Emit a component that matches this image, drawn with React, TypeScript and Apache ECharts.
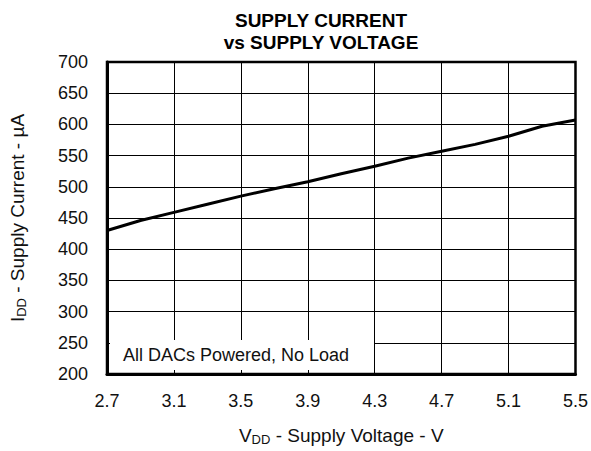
import React, { useEffect, useRef } from "react";
import * as echarts from "echarts";

const voltages = [2.7, 2.9, 3.1, 3.3, 3.5, 3.7, 3.9, 4.1, 4.3, 4.5, 4.7, 4.9, 5.1, 5.3, 5.5];
const currents = [430, 446, 459, 472, 485, 497, 508, 521, 533, 546, 557, 568, 581, 597, 607];

const xMin = 2.7;
const xMax = 5.5;
const xStep = 0.4;
const yMin = 200;
const yMax = 700;
const yStep = 50;

const titleLines = "SUPPLY CURRENT\nvs SUPPLY VOLTAGE";
const annotation = "All DACs Powered, No Load";

const FONT = "'Liberation Sans', Arial, Helvetica, sans-serif";

export default function App() {
  const ref = useRef<HTMLDivElement>(null);
  useEffect(() => {
    if (!ref.current) return;
    const chart = echarts.init(ref.current, null, { renderer: "svg" });
    const data = voltages.map((v, i) => [v, currents[i]]);
    const nameRich = {
      v: { fontSize: 19, color: "#111", fontFamily: FONT },
      s: { fontSize: 13, color: "#111", fontFamily: FONT, verticalAlign: "bottom", padding: [8, 0, 0, 0] },
    };
    chart.setOption({
      animation: false,
      backgroundColor: "#ffffff",
      grid: {
        left: 104,
        right: 10,
        top: 62,
        bottom: 73,
        show: true,
        borderColor: "#000",
        borderWidth: 2.5,
        backgroundColor: "transparent",
      },
      xAxis: {
        type: "value",
        min: xMin,
        max: xMax,
        interval: xStep,
        name: "{v|V}{s|DD}{v| - Supply Voltage - V}",
        nameLocation: "middle",
        nameGap: 51,
        nameTextStyle: { rich: nameRich },
        axisLine: { show: true, onZero: false, lineStyle: { color: "#000", width: 3 } },
        axisTick: { show: true, inside: true, length: 8, lineStyle: { color: "#000", width: 1 } },
        splitLine: { show: true, lineStyle: { color: "#000", width: 1 } },
        axisLabel: {
          margin: 18,
          fontSize: 18,
          color: "#111",
          fontFamily: FONT,
          formatter: (v: number) => v.toFixed(1),
        },
      },
      yAxis: {
        type: "value",
        min: yMin,
        max: yMax,
        interval: yStep,
        name: "{v|I}{s|DD}{v| - Supply Current - µA}",
        nameLocation: "middle",
        nameRotate: 90,
        nameGap: 79,
        nameTextStyle: { rich: nameRich },
        axisLine: { show: true, onZero: false, lineStyle: { color: "#000", width: 3 } },
        axisTick: { show: true, inside: true, length: 6, lineStyle: { color: "#000", width: 1 } },
        splitLine: { show: true, lineStyle: { color: "#000", width: 1 } },
        axisLabel: { margin: 19, fontSize: 18, color: "#111", fontFamily: FONT },
      },
      graphic: [
        {
          type: "text",
          x: 321,
          y: 9,
          style: {
            text: titleLines,
            textAlign: "center",
            textVerticalAlign: "top",
            font: `bold 19px ${FONT}`,
            lineHeight: 22,
            fill: "#000",
          },
        },
        {
          type: "rect",
          z: 10,
          shape: { x: 110, y: 340, width: 264, height: 30 },
          style: { fill: "#fff" },
        },
        {
          type: "text",
          z: 11,
          x: 123,
          y: 355,
          style: {
            text: annotation,
            font: `18px ${FONT}`,
            fill: "#111",
            textVerticalAlign: "middle",
          },
        },
      ],
      series: [
        {
          type: "line",
          data,
          showSymbol: false,
          symbol: "none",
          lineStyle: { color: "#000", width: 3 },
          z: 5,
        },
      ],
    });
    return () => chart.dispose();
  }, []);
  return <div ref={ref} style={{ width: 591, height: 451, position: "absolute", left: 0, top: 0 }} />;
}
